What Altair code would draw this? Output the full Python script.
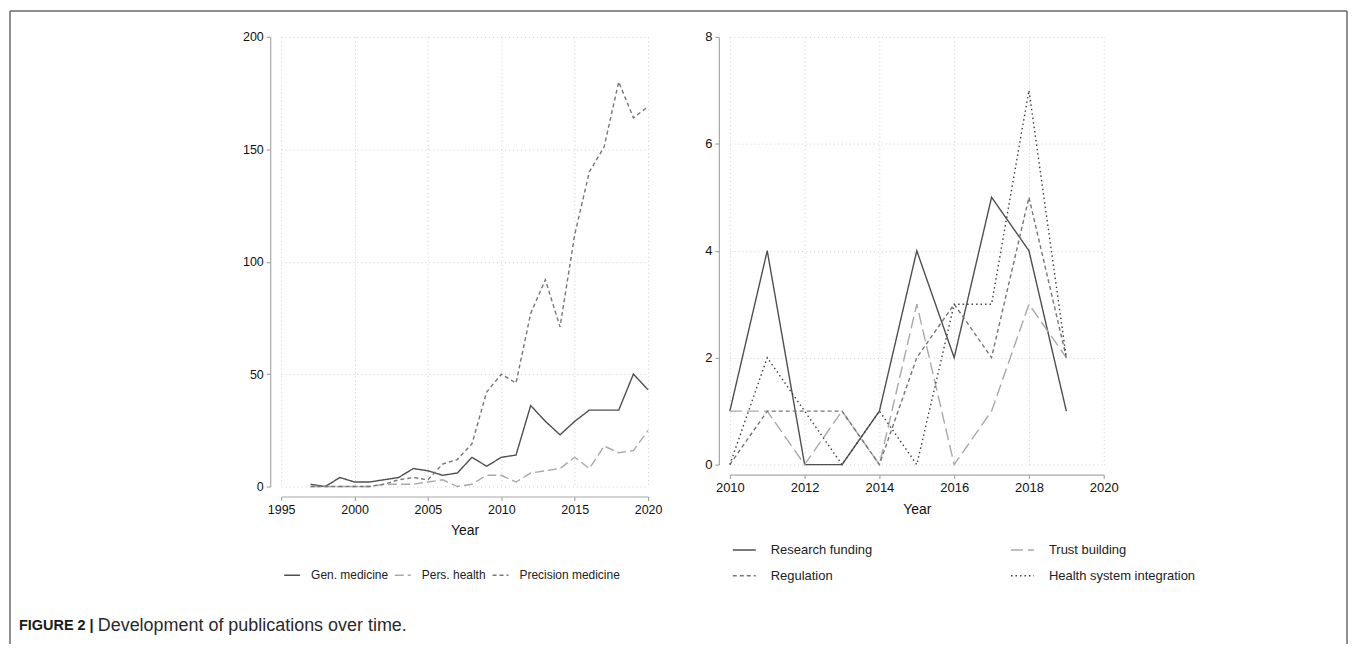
import altair as alt
import pandas as pd

FONT = "Liberation Sans"

# ---------------- data: left panel ----------------
years_left = list(range(1997, 2021))
gen_medicine = [1, 0, 4, 2, 2, 3, 4, 8, 7, 5, 6, 13, 9, 13, 14, 36, 29, 23, 29, 34, 34, 34, 50, 43]
pers_health = [0, 0, 0, 0, 0, 1, 1, 1, 2, 3, 0, 1, 5, 5, 2, 6, 7, 8, 13, 8, 18, 15, 16, 25]
precision_medicine = [0, 0, 0, 0, 0, 1, 3, 4, 3, 10, 12, 19, 42, 50, 46, 77, 92, 71, 112, 140, 151, 180, 164, 169]
left_series = ["Gen. medicine", "Pers. health", "Precision medicine"]
left_colors = ["#4f4f4f", "#a9a9a9", "#767676"]
left_dashes = [[1, 0], [9, 4], [4, 3]]
x_ticks_left = [1995, 2000, 2005, 2010, 2015, 2020]
y_ticks_left = [0, 50, 100, 150, 200]

# ---------------- data: right panel ----------------
years_right = list(range(2010, 2020))
research_funding = [1, 4, 0, 0, 1, 4, 2, 5, 4, 1]
trust_building = [1, 1, 0, 1, 0, 3, 0, 1, 3, 2]
regulation = [0, 1, 1, 1, 0, 2, 3, 2, 5, 2]
health_system_integration = [0, 2, 1, 0, 1, 0, 3, 3, 7, 2]
right_series = ["Research funding", "Trust building", "Regulation", "Health system integration"]
right_colors = ["#4f4f4f", "#a9a9a9", "#767676", "#404040"]
right_dashes = [[1, 0], [12, 5], [4, 3], [1.5, 3]]
x_ticks_right = [2010, 2012, 2014, 2016, 2018, 2020]
y_ticks_right = [0, 2, 4, 6, 8]

caption_bold = "FIGURE 2 |"
caption_text = "Development of publications over time."

left_df = pd.DataFrame({
    "Year": years_left * 3,
    "Count": gen_medicine + pers_health + precision_medicine,
    "Series": [s for s in left_series for _ in years_left],
})
right_df = pd.DataFrame({
    "Year": years_right * 4,
    "Count": research_funding + trust_building + regulation + health_system_integration,
    "Series": [s for s in right_series for _ in years_right],
})
one = pd.DataFrame({"k": [0]})


def legend(**kw):
    return alt.Legend(
        title=None, orient="none", direction="horizontal", symbolType="stroke",
        symbolStrokeWidth=1.5, labelFont=FONT, labelColor="#222222", padding=0, **kw
    )


def axis_x(values, fs):
    return alt.Axis(values=values, format="d", title="Year", offset=10, tickSize=4,
                    labelPadding=3, titlePadding=8, labelFontSize=fs, labelFlush=False)


def axis_y(values, fs):
    return alt.Axis(values=values, format="d", title=None, offset=11, tickSize=4,
                    labelPadding=3, labelFontSize=fs)


left_leg = legend(legendX=2, legendY=531, columnPadding=3, symbolSize=256,
                  labelOffset=10, labelFontSize=12)
left_lines = alt.Chart(left_df).mark_line(strokeWidth=1.4).encode(
    x=alt.X("Year:Q", scale=alt.Scale(domain=[1995, 2020], nice=False), axis=axis_x(x_ticks_left, 12.5)),
    y=alt.Y("Count:Q", scale=alt.Scale(domain=[0, 200], nice=False), axis=axis_y(y_ticks_left, 12.5)),
    color=alt.Color("Series:N", scale=alt.Scale(domain=left_series, range=left_colors), legend=left_leg),
    strokeDash=alt.StrokeDash("Series:N", scale=alt.Scale(domain=left_series, range=left_dashes), legend=left_leg),
)

cap1 = alt.Chart(pd.DataFrame({"t": [caption_bold]})).mark_text(
    font=FONT, fontSize=14.5, fontWeight="bold", align="left", baseline="middle", color="#1a1a1a"
).encode(text="t:N", x=alt.value(-263), y=alt.value(591))
cap2 = alt.Chart(pd.DataFrame({"t": [caption_text]})).mark_text(
    font=FONT, fontSize=18, align="left", baseline="middle", color="#2a2a2a"
).encode(text="t:N", x=alt.value(-184), y=alt.value(591))

# thin frame around the whole figure (left, top, right edges)
frame_style = dict(color="#6a6a6a", strokeWidth=1.5)
frame_left = alt.Chart(one).mark_rule(**frame_style).encode(
    x=alt.value(-272), y=alt.value(-26), y2=alt.value(609))
frame_top = alt.Chart(one).mark_rule(**frame_style).encode(
    x=alt.value(-272), x2=alt.value(1069), y=alt.value(-26))
frame_right = alt.Chart(one).mark_rule(**frame_style).encode(
    x=alt.value(1069), y=alt.value(-26), y2=alt.value(609))

left = alt.layer(left_lines, cap1, cap2, frame_left, frame_top, frame_right).properties(
    width=368, height=451)

right_leg = legend(legendX=2, legendY=502, columns=2, columnPadding=135, rowPadding=6,
                   symbolSize=530, labelOffset=14, labelFontSize=13)
right = alt.Chart(right_df).mark_line(strokeWidth=1.4).encode(
    x=alt.X("Year:Q", scale=alt.Scale(domain=[2010, 2020], nice=False), axis=axis_x(x_ticks_right, 13)),
    y=alt.Y("Count:Q", scale=alt.Scale(domain=[0, 8], nice=False), axis=axis_y(y_ticks_right, 13)),
    color=alt.Color("Series:N", scale=alt.Scale(domain=right_series, range=right_colors), legend=right_leg),
    strokeDash=alt.StrokeDash("Series:N", scale=alt.Scale(domain=right_series, range=right_dashes), legend=right_leg),
).properties(width=375, height=429)

chart = alt.hconcat(left, right, spacing=82, bounds="flush").resolve_scale(
    color="independent", strokeDash="independent"
).properties(
    padding={"left": 0, "top": 0, "right": 0, "bottom": 0}
).configure_view(
    stroke="transparent"
).configure_axis(
    domainColor="#a8a8a8", tickColor="#a8a8a8", domainWidth=1.2, tickWidth=1.2,
    gridColor="#cfcfcf", gridDash=[1, 3], gridWidth=1,
    labelFont=FONT, labelColor="#111111",
    titleFont=FONT, titleFontSize=14, titleFontWeight="normal", titleColor="#111111",
)

chart.save("out.html", embed_options={"renderer": "svg", "actions": False})
